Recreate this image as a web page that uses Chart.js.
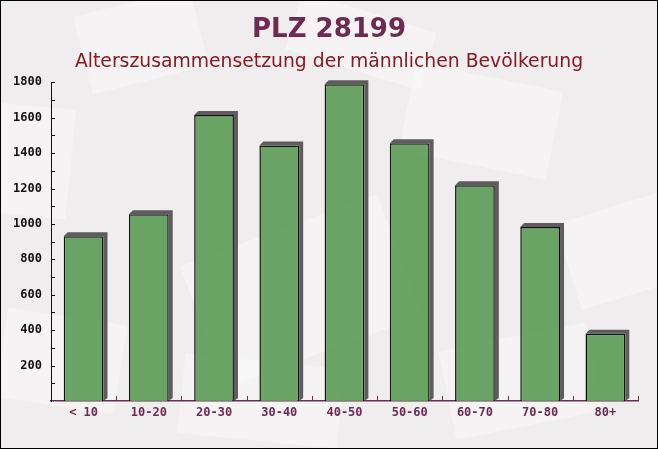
<!DOCTYPE html>
<html lang="de">
<head>
  <meta charset="UTF-8">
  <title>PLZ 28199 - Altersstruktur</title>
  <script src="https://cdn.jsdelivr.net/npm/chart.js"></script>
  <style>
    html, body {
      margin: 0;
      padding: 0;
      background: #f3f0f2;
    }
    #wrap {
      width: 656px;
      height: 447px;
      border: 1px solid #000;
      background: #f0edef;
    }
  </style>
</head>
<body>
  <div id="wrap">
    <canvas id="graphique" width="656" height="447"></canvas>
  </div>

  <script>
    // Daten
    const altersgruppen = ["< 10", "10-20", "20-30", "30-40", "40-50", "50-60", "60-70", "70-80", "80+"];
    const maenner = [930, 1054, 1615, 1443, 1789, 1456, 1218, 983, 380];
    const yTicks = [0, 200, 400, 600, 800, 1000, 1200, 1400, 1600, 1800];

    const pflaume = "#6e2a50";

    // helle "Briefumschlaege" im Hintergrund (nur Deko)
    const hintergrund = {
      id: "hintergrund",
      beforeDraw(chart) {
        const c = chart.ctx;
        const flecken = [
          [140, 40, 120, 80, -0.25], [480, 120, 150, 90, 0.2], [620, 250, 110, 90, -0.3],
          [60, 360, 120, 90, 0.15], [300, 290, 210, 130, -0.35], [260, 400, 160, 80, 0.1],
          [520, 380, 150, 90, -0.2], [30, 160, 80, 110, 0.1], [360, 40, 140, 60, 0.3]
        ];
        c.save();
        c.fillStyle = "rgba(255,255,255,0.32)";
        flecken.forEach(([x, y, w, h, r]) => {
          c.save();
          c.translate(x, y);
          c.rotate(r);
          c.fillRect(-w / 2, -h / 2, w, h);
          c.restore();
        });
        c.restore();
      }
    };

    // Schatten hinter den Balken + kleine Achsenstriche
    const schatten = {
      id: "schatten",
      beforeDatasetsDraw(chart) {
        const c = chart.ctx;
        const meta = chart.getDatasetMeta(0);
        c.save();
        c.fillStyle = "#5f5c5e";
        meta.data.forEach(bar => {
          const x0 = bar.x - bar.width / 2;
          const x1 = bar.x + bar.width / 2;
          const y0 = bar.y;
          const b = bar.base;
          c.beginPath();
          c.moveTo(x0, y0);
          c.lineTo(x0 + 4, y0 - 4);
          c.lineTo(x1 + 4, y0 - 4);
          c.lineTo(x1 + 4, b - 3);
          c.lineTo(x1, b);
          c.lineTo(x1, y0);
          c.closePath();
          c.fill();
        });
        c.restore();
      },
      afterDraw(chart) {
        const c = chart.ctx;
        const a = chart.chartArea;
        const y = chart.scales.y;
        c.save();
        c.lineWidth = 1;
        // y-Achse: Striche nach innen, alle 100
        c.strokeStyle = "#111";
        for (let v = 100; v <= 1800; v += 100) {
          const py = Math.round(y.getPixelForValue(v)) + 0.5;
          c.beginPath();
          c.moveTo(a.left, py);
          c.lineTo(a.left + 4, py);
          c.stroke();
        }
        // x-Achse: Striche nach oben an den Grenzen
        c.strokeStyle = pflaume;
        const n = altersgruppen.length;
        for (let i = 1; i <= n; i++) {
          const px = Math.round(a.left + i * (a.right - a.left) / n) + 0.5;
          c.beginPath();
          c.moveTo(px, a.bottom);
          c.lineTo(px, a.bottom - 5);
          c.stroke();
        }
        c.restore();
      }
    };

    const ctx = document.getElementById("graphique").getContext("2d");
    const chart = new Chart(ctx, {
      type: "bar",
      data: {
        labels: altersgruppen,
        datasets: [{
          label: "Männer",
          data: maenner,
          backgroundColor: "rgba(96,158,90,0.93)",
          borderColor: "#111",
          borderWidth: 1.5,
          barPercentage: 0.61,
          categoryPercentage: 1.0
        }]
      },
      plugins: [hintergrund, schatten],
      options: {
        responsive: false,
        animation: false,
        layout: { padding: { left: 9, right: 9, top: 0, bottom: 0 } },
        plugins: {
          legend: { display: false },
          tooltip: { enabled: false },
          title: {
            display: true,
            text: "PLZ 28199",
            color: pflaume,
            font: { family: "'DejaVu Sans', sans-serif", size: 26, weight: "bold" },
            padding: { top: 14, bottom: 2 }
          },
          subtitle: {
            display: true,
            text: "Alterszusammensetzung der männlichen Bevölkerung",
            color: "#8a1a22",
            font: { family: "'DejaVu Sans', sans-serif", size: 18.8 },
            padding: { top: 3, bottom: 8.5 }
          }
        },
        scales: {
          x: {
            grid: { display: false, tickLength: 0 },
            border: { display: true, color: pflaume, width: 1.5 },
            ticks: {
              color: pflaume,
              font: { family: "'DejaVu Sans Mono', monospace", size: 12, weight: "bold" },
              padding: 5
            },
            afterFit(scale) { scale.height = 47; }
          },
          y: {
            min: 0,
            max: 1800,
            afterBuildTicks(scale) { scale.ticks = yTicks.map(v => ({ value: v })); },
            grid: { display: false, tickLength: 0 },
            border: { display: true, color: "#111", width: 1 },
            ticks: {
              color: "#111",
              font: { family: "'DejaVu Sans Mono', monospace", size: 12, weight: "bold" },
              padding: 9,
              callback: v => (v === 0 ? "" : v)
            },
            afterFit(scale) { scale.width = 41; }
          },
          // leerer Rand rechts, damit der Titel mittig bleibt
          rand: {
            type: "linear",
            position: "right",
            display: true,
            grid: { display: false, tickLength: 0 },
            border: { display: false },
            ticks: { display: false },
            afterFit(scale) { scale.width = 10; }
          }
        }
      }
    });
  </script>
</body>
</html>
